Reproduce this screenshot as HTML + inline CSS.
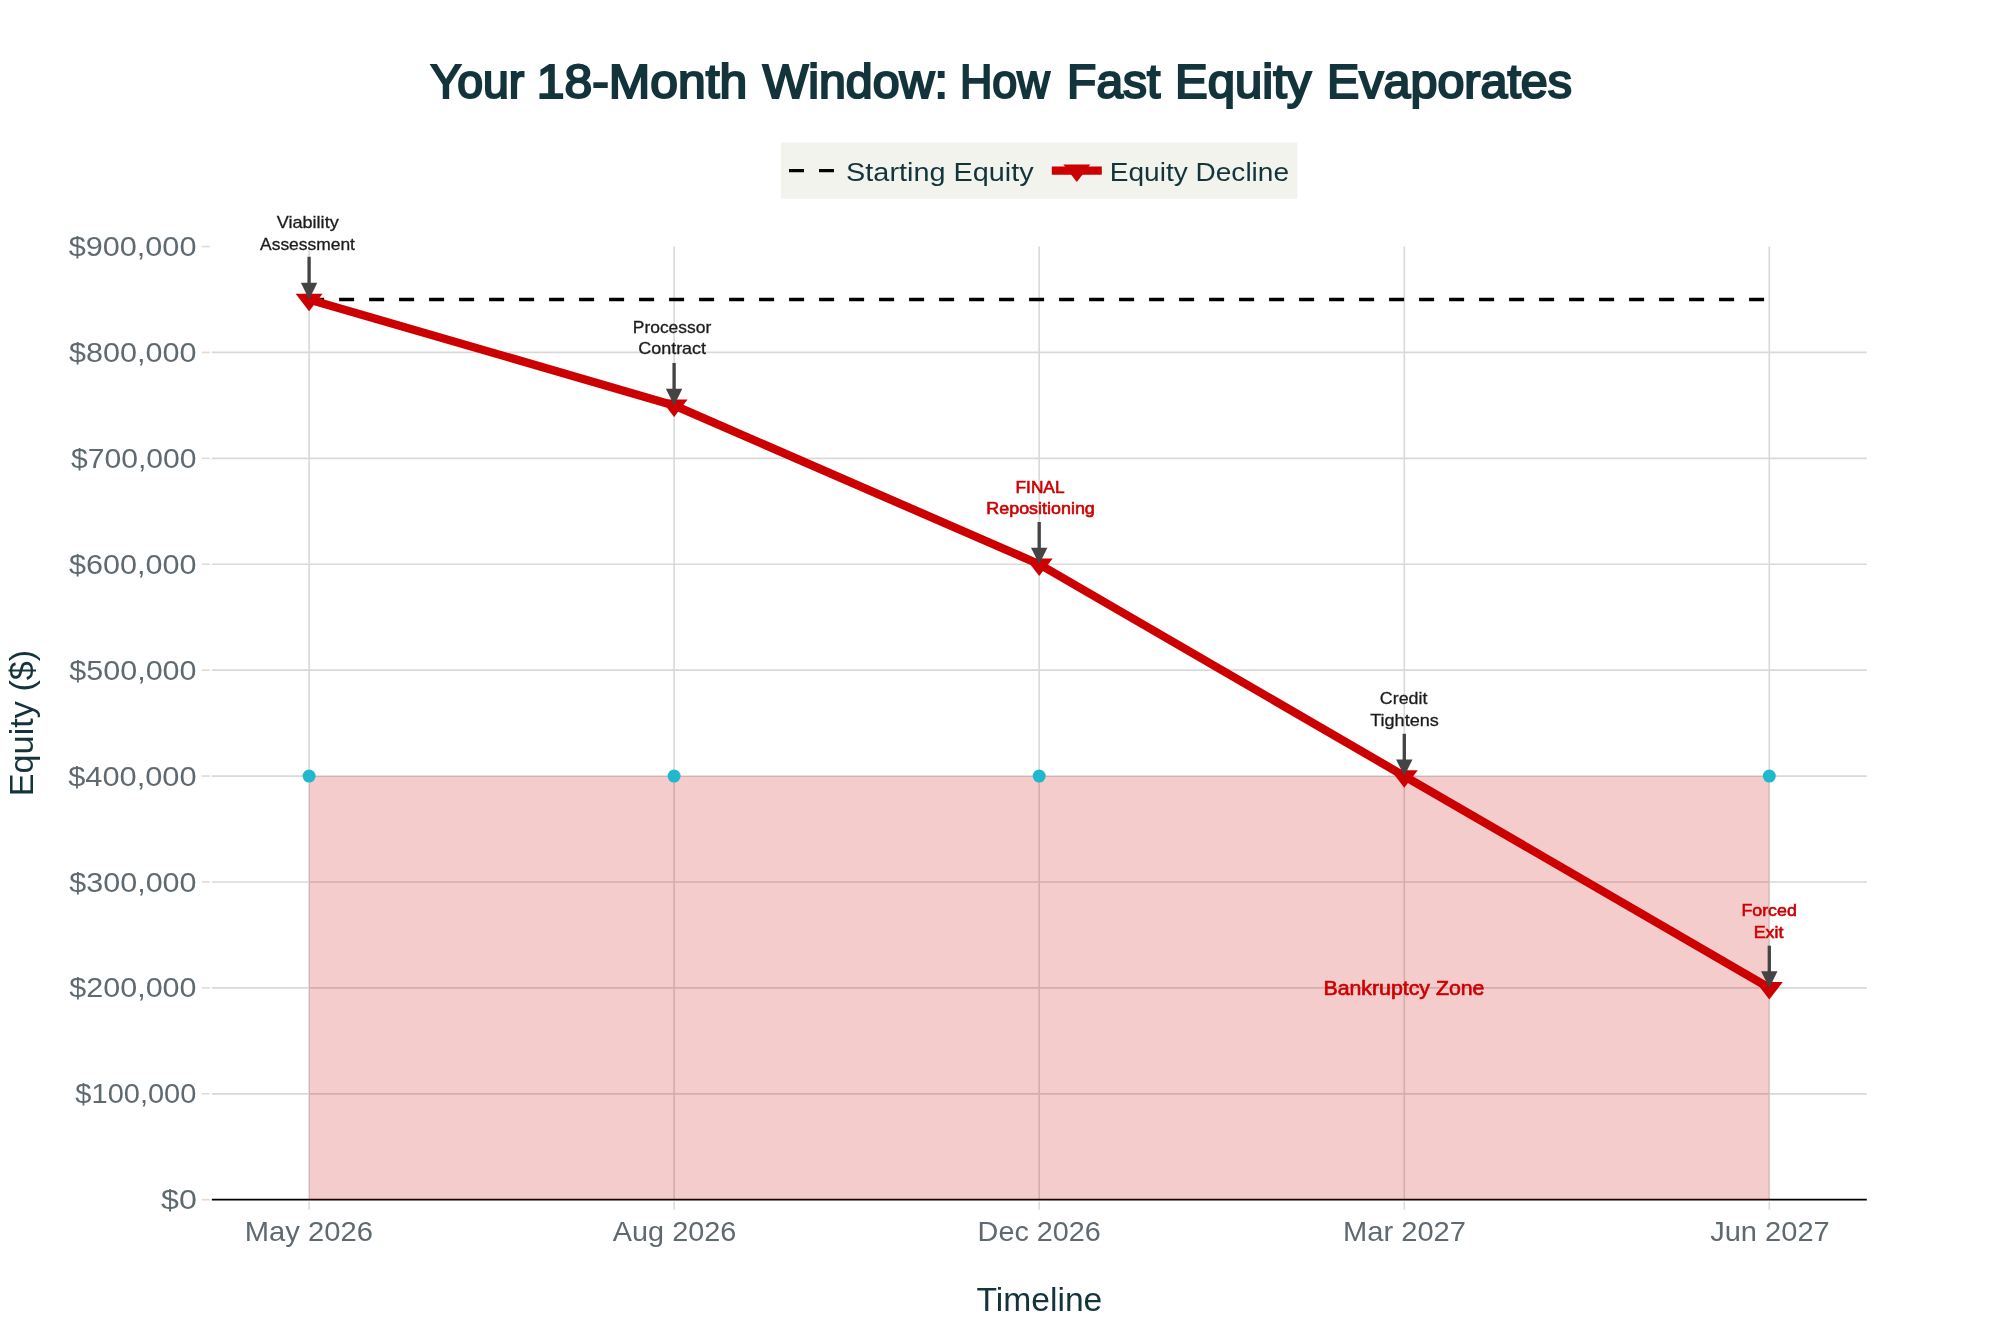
<!DOCTYPE html>
<html lang="en"><head><meta charset="utf-8"><title>Your 18-Month Window: How Fast Equity Evaporates</title>
<style>html,body{margin:0;padding:0;background:#fff;}body{width:2000px;height:1333px;overflow:hidden;}svg{display:block;will-change:transform;}text{font-family:'Liberation Sans',sans-serif;}</style>
</head><body>
<svg width="2000" height="1333" viewBox="0 0 2000 1333">
<rect x="0" y="0" width="2000" height="1333" fill="#ffffff"/>
<g stroke="#d9d9d9" stroke-width="1.67" fill="none">
<line x1="309.10" y1="246.51" x2="309.10" y2="1199.70"/>
<line x1="674.10" y1="246.51" x2="674.10" y2="1199.70"/>
<line x1="1039.20" y1="246.51" x2="1039.20" y2="1199.70"/>
<line x1="1404.30" y1="246.51" x2="1404.30" y2="1199.70"/>
<line x1="1769.30" y1="246.51" x2="1769.30" y2="1199.70"/>
<line x1="211.80" y1="1093.79" x2="1866.80" y2="1093.79"/>
<line x1="211.80" y1="987.88" x2="1866.80" y2="987.88"/>
<line x1="211.80" y1="881.97" x2="1866.80" y2="881.97"/>
<line x1="211.80" y1="776.06" x2="1866.80" y2="776.06"/>
<line x1="211.80" y1="670.15" x2="1866.80" y2="670.15"/>
<line x1="211.80" y1="564.24" x2="1866.80" y2="564.24"/>
<line x1="211.80" y1="458.33" x2="1866.80" y2="458.33"/>
<line x1="211.80" y1="352.42" x2="1866.80" y2="352.42"/>
</g>
<line x1="211.80" y1="1199.70" x2="1866.80" y2="1199.70" stroke="#000000" stroke-width="1.67"/>
<g stroke="#dfddda" stroke-width="1.67">
<line x1="201.8" y1="1199.70" x2="209.8" y2="1199.70"/>
<line x1="201.8" y1="1093.79" x2="209.8" y2="1093.79"/>
<line x1="201.8" y1="987.88" x2="209.8" y2="987.88"/>
<line x1="201.8" y1="881.97" x2="209.8" y2="881.97"/>
<line x1="201.8" y1="776.06" x2="209.8" y2="776.06"/>
<line x1="201.8" y1="670.15" x2="209.8" y2="670.15"/>
<line x1="201.8" y1="564.24" x2="209.8" y2="564.24"/>
<line x1="201.8" y1="458.33" x2="209.8" y2="458.33"/>
<line x1="201.8" y1="352.42" x2="209.8" y2="352.42"/>
<line x1="201.8" y1="246.51" x2="209.8" y2="246.51"/>
<line x1="309.10" y1="1201.6" x2="309.10" y2="1209.8"/>
<line x1="674.10" y1="1201.6" x2="674.10" y2="1209.8"/>
<line x1="1039.20" y1="1201.6" x2="1039.20" y2="1209.8"/>
<line x1="1404.30" y1="1201.6" x2="1404.30" y2="1209.8"/>
<line x1="1769.30" y1="1201.6" x2="1769.30" y2="1209.8"/>
</g>
<rect x="309.10" y="776.06" width="1460.20" height="423.64" fill="#cc0000" fill-opacity="0.2"/>
<circle cx="309.10" cy="776.06" r="6.5" fill="#1fb8cd"/>
<circle cx="674.10" cy="776.06" r="6.5" fill="#1fb8cd"/>
<circle cx="1039.20" cy="776.06" r="6.5" fill="#1fb8cd"/>
<circle cx="1404.30" cy="776.06" r="6.5" fill="#1fb8cd"/>
<circle cx="1769.30" cy="776.06" r="6.5" fill="#1fb8cd"/>
<line x1="309.10" y1="299.47" x2="1769.30" y2="299.47" stroke="#000" stroke-width="3.33" stroke-dasharray="15 15"/>
<polyline points="309.10,299.47 674.10,405.38 1039.20,564.24 1404.30,776.06 1769.30,987.88" fill="none" stroke="#cc0000" stroke-width="8.33" stroke-linejoin="round" stroke-linecap="butt"/>
<path d="M295.62,293.63H322.58L309.10,311.14Z" fill="#cc0000"/>
<path d="M660.62,399.54H687.58L674.10,417.05Z" fill="#cc0000"/>
<path d="M1025.72,558.40H1052.68L1039.20,575.91Z" fill="#cc0000"/>
<path d="M1390.82,770.23H1417.78L1404.30,787.73Z" fill="#cc0000"/>
<path d="M1755.82,982.05H1782.78L1769.30,999.55Z" fill="#cc0000"/>
<rect x="781.1" y="142.4" width="516.3" height="56.4" fill="#f3f3ee"/>
<line x1="789" y1="170.7" x2="839" y2="170.7" stroke="#000" stroke-width="3.33" stroke-dasharray="15 15"/>
<line x1="1051.8" y1="170.6" x2="1101.8" y2="170.6" stroke="#cc0000" stroke-width="8.33"/>
<path d="M1063.32,164.56H1090.28L1076.80,182.07Z" fill="#cc0000"/>
<line x1="309.10" y1="256.75" x2="309.10" y2="289.47" stroke="#444" stroke-width="3.33"/>
<path d="M300.90,282.87L317.30,282.87L309.10,299.47Z" fill="#444"/>
<line x1="674.10" y1="363.00" x2="674.10" y2="395.38" stroke="#444" stroke-width="3.33"/>
<path d="M665.90,388.78L682.30,388.78L674.10,405.38Z" fill="#444"/>
<line x1="1039.20" y1="522.00" x2="1039.20" y2="554.24" stroke="#444" stroke-width="3.33"/>
<path d="M1031.00,547.64L1047.40,547.64L1039.20,564.24Z" fill="#444"/>
<line x1="1404.30" y1="733.80" x2="1404.30" y2="766.06" stroke="#444" stroke-width="3.33"/>
<path d="M1396.10,759.46L1412.50,759.46L1404.30,776.06Z" fill="#444"/>
<line x1="1769.30" y1="945.65" x2="1769.30" y2="977.88" stroke="#444" stroke-width="3.33"/>
<path d="M1761.10,971.28L1777.50,971.28L1769.30,987.88Z" fill="#444"/>
<text y="97.70" font-size="47.8" fill="#13343b" stroke="#13343b" stroke-width="2.15" stroke-linejoin="miter" stroke-miterlimit="2.5"><tspan x="430.52" textLength="93.82" lengthAdjust="spacingAndGlyphs">Your</tspan> <tspan x="536.80" textLength="210.47" lengthAdjust="spacingAndGlyphs">18-Month</tspan> <tspan x="762.67" textLength="185.23" lengthAdjust="spacingAndGlyphs">Window:</tspan> <tspan x="959.89" textLength="89.84" lengthAdjust="spacingAndGlyphs">How</tspan> <tspan x="1067.12" textLength="93.20" lengthAdjust="spacingAndGlyphs">Fast</tspan> <tspan x="1175.05" textLength="136.20" lengthAdjust="spacingAndGlyphs">Equity</tspan> <tspan x="1327.01" textLength="245.02" lengthAdjust="spacingAndGlyphs">Evaporates</tspan></text>
<text x="846.11" y="181.00" font-size="26.67" fill="#13343b" textLength="187.47" lengthAdjust="spacingAndGlyphs">Starting Equity</text>
<text x="1109.84" y="181.00" font-size="26.67" fill="#13343b" textLength="179.20" lengthAdjust="spacingAndGlyphs">Equity Decline</text>
<text x="161.02" y="1209.30" font-size="27.9" fill="#5f6a70" textLength="35.76" lengthAdjust="spacingAndGlyphs">$0</text>
<text x="75.39" y="1103.39" font-size="27.9" fill="#5f6a70" textLength="120.98" lengthAdjust="spacingAndGlyphs">$100,000</text>
<text x="69.38" y="997.48" font-size="27.9" fill="#5f6a70" textLength="127.13" lengthAdjust="spacingAndGlyphs">$200,000</text>
<text x="69.38" y="891.57" font-size="27.9" fill="#5f6a70" textLength="127.13" lengthAdjust="spacingAndGlyphs">$300,000</text>
<text x="68.18" y="785.66" font-size="27.9" fill="#5f6a70" textLength="128.44" lengthAdjust="spacingAndGlyphs">$400,000</text>
<text x="69.38" y="679.75" font-size="27.9" fill="#5f6a70" textLength="127.13" lengthAdjust="spacingAndGlyphs">$500,000</text>
<text x="69.14" y="573.84" font-size="27.9" fill="#5f6a70" textLength="127.39" lengthAdjust="spacingAndGlyphs">$600,000</text>
<text x="71.05" y="467.93" font-size="27.9" fill="#5f6a70" textLength="125.52" lengthAdjust="spacingAndGlyphs">$700,000</text>
<text x="69.14" y="362.02" font-size="27.9" fill="#5f6a70" textLength="127.39" lengthAdjust="spacingAndGlyphs">$800,000</text>
<text x="68.65" y="256.11" font-size="27.9" fill="#5f6a70" textLength="127.79" lengthAdjust="spacingAndGlyphs">$900,000</text>
<text x="244.81" y="1241.30" font-size="27.9" fill="#5f6a70" textLength="128.18" lengthAdjust="spacingAndGlyphs">May 2026</text>
<text x="612.87" y="1241.30" font-size="27.9" fill="#5f6a70" textLength="123.41" lengthAdjust="spacingAndGlyphs">Aug 2026</text>
<text x="977.64" y="1241.30" font-size="27.9" fill="#5f6a70" textLength="123.26" lengthAdjust="spacingAndGlyphs">Dec 2026</text>
<text x="1343.04" y="1241.30" font-size="27.9" fill="#5f6a70" textLength="122.89" lengthAdjust="spacingAndGlyphs">Mar 2027</text>
<text x="1710.19" y="1241.30" font-size="27.9" fill="#5f6a70" textLength="119.52" lengthAdjust="spacingAndGlyphs">Jun 2027</text>
<text x="976.48" y="1311.30" font-size="33.33" fill="#13343b" textLength="125.84" lengthAdjust="spacingAndGlyphs">Timeline</text>
<text x="276.68" y="227.70" font-size="17" fill="#1c1c1c" stroke="#1c1c1c" stroke-width="0.3" stroke-linejoin="miter" stroke-miterlimit="2.5" textLength="62.05" lengthAdjust="spacingAndGlyphs">Viability</text>
<text x="260.10" y="249.50" font-size="17" fill="#1c1c1c" stroke="#1c1c1c" stroke-width="0.3" stroke-linejoin="miter" stroke-miterlimit="2.5" textLength="94.82" lengthAdjust="spacingAndGlyphs">Assessment</text>
<text x="632.78" y="332.90" font-size="17" fill="#1c1c1c" stroke="#1c1c1c" stroke-width="0.3" stroke-linejoin="miter" stroke-miterlimit="2.5" textLength="78.45" lengthAdjust="spacingAndGlyphs">Processor</text>
<text x="638.23" y="354.40" font-size="17" fill="#1c1c1c" stroke="#1c1c1c" stroke-width="0.3" stroke-linejoin="miter" stroke-miterlimit="2.5" textLength="67.86" lengthAdjust="spacingAndGlyphs">Contract</text>
<text x="1015.51" y="492.90" font-size="17" fill="#cc0000" stroke="#cc0000" stroke-width="0.6" stroke-linejoin="miter" stroke-miterlimit="2.5" textLength="49.05" lengthAdjust="spacingAndGlyphs">FINAL</text>
<text x="986.34" y="514.40" font-size="17" fill="#cc0000" stroke="#cc0000" stroke-width="0.6" stroke-linejoin="miter" stroke-miterlimit="2.5" textLength="108.48" lengthAdjust="spacingAndGlyphs">Repositioning</text>
<text x="1379.88" y="704.25" font-size="17" fill="#1c1c1c" stroke="#1c1c1c" stroke-width="0.3" stroke-linejoin="miter" stroke-miterlimit="2.5" textLength="47.46" lengthAdjust="spacingAndGlyphs">Credit</text>
<text x="1370.22" y="726.00" font-size="17" fill="#1c1c1c" stroke="#1c1c1c" stroke-width="0.3" stroke-linejoin="miter" stroke-miterlimit="2.5" textLength="68.54" lengthAdjust="spacingAndGlyphs">Tightens</text>
<text x="1741.41" y="916.00" font-size="17" fill="#cc0000" stroke="#cc0000" stroke-width="0.6" stroke-linejoin="miter" stroke-miterlimit="2.5" textLength="55.44" lengthAdjust="spacingAndGlyphs">Forced</text>
<text x="1753.66" y="937.60" font-size="17" fill="#cc0000" stroke="#cc0000" stroke-width="0.6" stroke-linejoin="miter" stroke-miterlimit="2.5" textLength="29.70" lengthAdjust="spacingAndGlyphs">Exit</text>
<text x="1323.44" y="994.60" font-size="20.5" fill="#cc0000" stroke="#cc0000" stroke-width="0.65" stroke-linejoin="miter" stroke-miterlimit="2.5" textLength="161.02" lengthAdjust="spacingAndGlyphs">Bankruptcy Zone</text>
<text transform="translate(32.7,723) rotate(-90)" font-size="34" fill="#13343b" text-anchor="middle" textLength="146.5" lengthAdjust="spacingAndGlyphs">Equity ($)</text>
</svg>
</body></html>
